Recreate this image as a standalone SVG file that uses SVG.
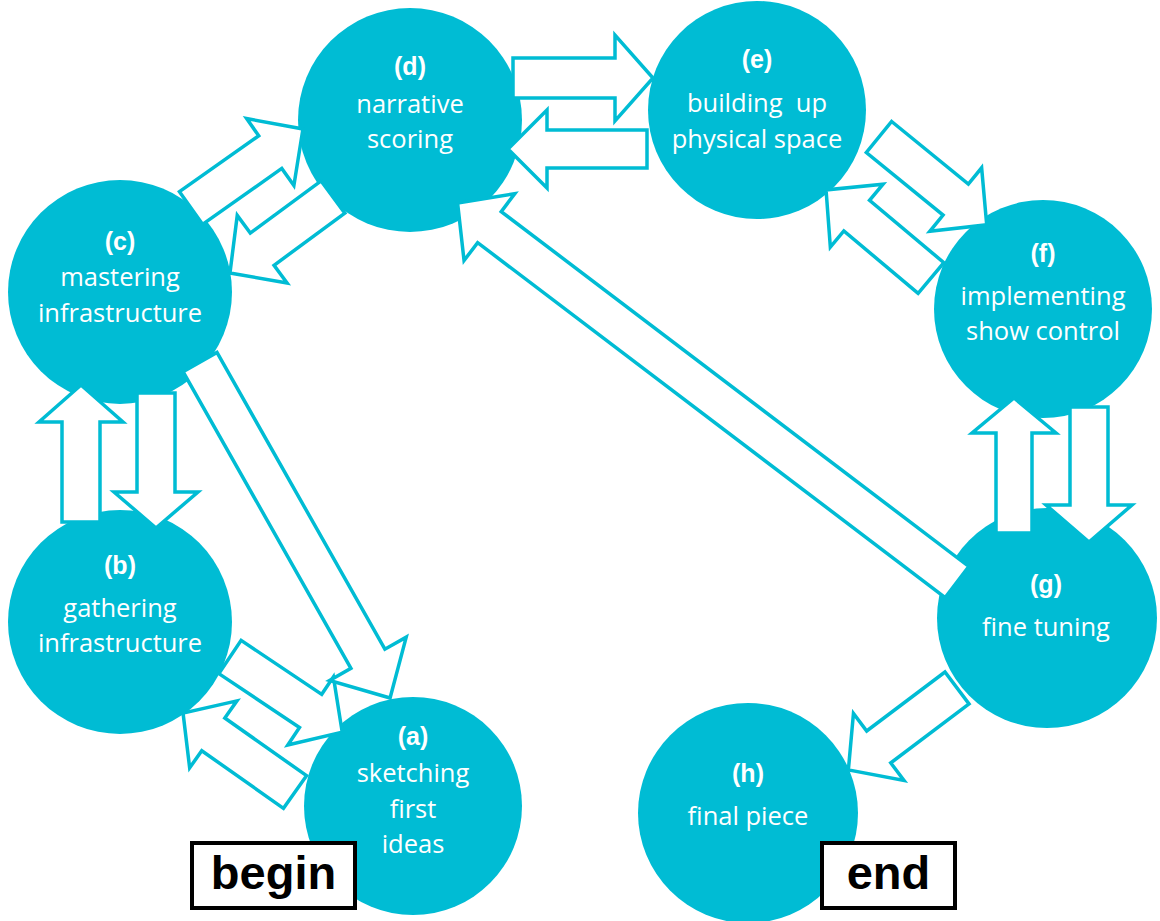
<svg xmlns="http://www.w3.org/2000/svg" width="1160" height="921" viewBox="0 0 1160 921">
<style>
.node{fill:#00BCD4;}
.lbl{font-family:"Liberation Sans",Arial,sans-serif;font-weight:bold;font-size:25px;fill:#ffffff;text-anchor:middle;}
.txt{font-family:"Open Sans","Liberation Sans",sans-serif;font-size:25.5px;fill:#ffffff;text-anchor:middle;}
.arr{fill:#ffffff;stroke:#00BCD4;stroke-width:3.5;stroke-linejoin:miter;}
.box{fill:#ffffff;stroke:#000000;stroke-width:4;}
.boxt{font-family:"Liberation Sans",Arial,sans-serif;font-weight:bold;font-size:47px;fill:#000000;text-anchor:middle;}
</style>
<rect width="1160" height="921" fill="#ffffff"/>
<g id="node-d"><circle class="node" cx="410" cy="120" r="112"/></g>
<g id="node-e"><circle class="node" cx="757" cy="110" r="109"/></g>
<g id="node-c"><circle class="node" cx="120" cy="292" r="112"/></g>
<g id="node-f"><circle class="node" cx="1043" cy="309" r="109"/></g>
<g id="node-b"><circle class="node" cx="120" cy="622" r="112"/></g>
<g id="node-g"><circle class="node" cx="1047" cy="618" r="110"/></g>
<g id="node-a"><circle class="node" cx="413" cy="806" r="109"/></g>
<g id="node-h"><circle class="node" cx="748" cy="813" r="110"/></g>
<g id="connectors">
<polygon class="arr" transform="translate(191,208) rotate(-35.2)" points="0,-20 97,-20 97,-41 137,0 97,41 97,20 0,20"/>
<polygon class="arr" transform="translate(333,197) rotate(143.6)" points="0,-20 88,-20 88,-42 128,0 88,42 88,20 0,20"/>
<polygon class="arr" transform="translate(513,78) rotate(0)" points="0,-20 102,-20 102,-43 140,0 102,43 102,20 0,20"/>
<polygon class="arr" transform="translate(647,149) rotate(180)" points="0,-19 100,-19 100,-39 139,0 100,39 100,19 0,19"/>
<polygon class="arr" transform="translate(879,137) rotate(39.2)" points="0,-20 99,-20 99,-41 139,0 99,41 99,20 0,20"/>
<polygon class="arr" transform="translate(931,278) rotate(-140)" points="0,-20 97,-20 97,-41 137,0 97,41 97,20 0,20"/>
<polygon class="arr" transform="translate(156,393) rotate(90)" points="0,-19 99,-19 99,-42 135,0 99,42 99,19 0,19"/>
<polygon class="arr" transform="translate(81,522) rotate(-90)" points="0,-19 100,-19 100,-42 137,0 100,42 100,19 0,19"/>
<polygon class="arr" transform="translate(1014,533) rotate(-90)" points="0,-18 100,-18 100,-42 135,0 100,42 100,18 0,18"/>
<polygon class="arr" transform="translate(1089,407) rotate(90)" points="0,-19 98,-19 98,-43 135,0 98,43 98,19 0,19"/>
<polygon class="arr" transform="translate(230,657) rotate(33.8)" points="0,-20 97,-20 97,-41 135,0 97,41 97,20 0,20"/>
<polygon class="arr" transform="translate(295,792) rotate(-144.8)" points="0,-20 100,-20 100,-41 137,0 100,41 100,20 0,20"/>
<polygon class="arr" transform="translate(200,362) rotate(60.5)" points="0,-19.5 341,-19.5 341,-44 386,0 341,44 341,19.5 0,19.5"/>
<polygon class="arr" transform="translate(957,582) rotate(-142.8)" points="0,-19.5 587,-19.5 587,-42 627,0 587,42 587,19.5 0,19.5"/>
<polygon class="arr" transform="translate(957,688) rotate(143)" points="0,-20 98,-20 98,-42 136,0 98,42 98,20 0,20"/>
</g>
<g id="labels-d"><text class="lbl" x="410" y="75">(d)</text><text class="txt" x="410" y="113">narrative</text><text class="txt" x="410" y="148">scoring</text></g>
<g id="labels-e"><text class="lbl" x="757" y="68">(e)</text><text class="txt" x="757" y="112" xml:space="preserve">building  up</text><text class="txt" x="757" y="148">physical space</text></g>
<g id="labels-c"><text class="lbl" x="120" y="250">(c)</text><text class="txt" x="120" y="286">mastering</text><text class="txt" x="120" y="322">infrastructure</text></g>
<g id="labels-f"><text class="lbl" x="1043" y="262">(f)</text><text class="txt" x="1043" y="305">implementing</text><text class="txt" x="1043" y="340">show control</text></g>
<g id="labels-b"><text class="lbl" x="120" y="574">(b)</text><text class="txt" x="120" y="617">gathering</text><text class="txt" x="120" y="652">infrastructure</text></g>
<g id="labels-g"><text class="lbl" x="1046" y="593">(g)</text><text class="txt" x="1046" y="636">fine tuning</text></g>
<g id="labels-a"><text class="lbl" x="413" y="745">(a)</text><text class="txt" x="413" y="782">sketching</text><text class="txt" x="413" y="818">first</text><text class="txt" x="413" y="853">ideas</text></g>
<g id="labels-h"><text class="lbl" x="748" y="782">(h)</text><text class="txt" x="748" y="825">final piece</text></g>
<g id="begin"><rect class="box" x="192" y="843" width="163" height="65"/><text class="boxt" x="273.5" y="889">begin</text></g>
<g id="end"><rect class="box" x="822" y="843" width="133" height="65"/><text class="boxt" x="888.5" y="889">end</text></g>
</svg>
